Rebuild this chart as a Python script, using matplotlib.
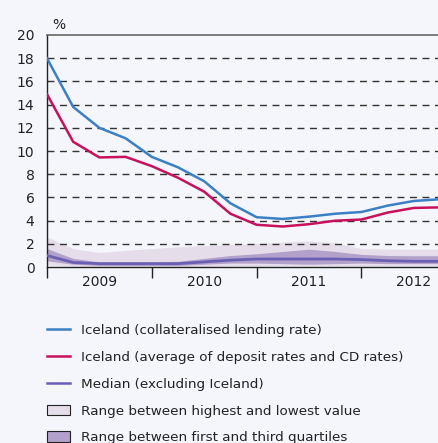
import numpy as np
import matplotlib
matplotlib.use('Agg')
import matplotlib.pyplot as plt
from matplotlib.patches import Patch
from matplotlib.lines import Line2D

# quarterly observations, 2009 Q1 onwards
quarters = 2009 + np.arange(16) * 0.25
lending_rate = [18.0, 13.8, 12.0, 11.1, 9.5, 8.6, 7.4, 5.5, 4.3, 4.15, 4.35, 4.6, 4.75, 5.3, 5.7, 5.85]
deposit_rate = [14.9, 10.8, 9.45, 9.5, 8.7, 7.7, 6.5, 4.6, 3.65, 3.5, 3.7, 4.0, 4.1, 4.7, 5.1, 5.15]
median_other = [1.0, 0.4, 0.3, 0.3, 0.3, 0.3, 0.45, 0.6, 0.7, 0.7, 0.7, 0.7, 0.65, 0.55, 0.5, 0.5]
q3 = [1.6, 0.75, 0.45, 0.45, 0.45, 0.5, 0.75, 1.0, 1.15, 1.35, 1.55, 1.35, 1.1, 1.0, 0.98, 0.98]
q1 = [0.55, 0.25, 0.15, 0.15, 0.15, 0.15, 0.25, 0.35, 0.35, 0.3, 0.25, 0.3, 0.35, 0.3, 0.3, 0.3]
range_high = [2.6, 1.6, 1.25, 1.45, 1.6, 1.75, 1.85, 1.95, 2.05, 2.15, 2.25, 2.1, 1.6, 1.55, 1.55, 1.55]
range_low = [0.2, 0.1, 0.05, 0.05, 0.05, 0.05, 0.05, 0.1, 0.1, 0.1, 0.1, 0.1, 0.1, 0.1, 0.1, 0.1]
years = ['2009', '2010', '2011', '2012']
yticks = list(range(0, 21, 2))

bg = '#f4f6fb'
c_blue = '#3b7fc4'
c_red = '#c8105c'
c_med = '#6a5fb3'
c_iqr = '#b2a1ca'
c_rng = '#e5dde9'

fig = plt.figure(figsize=(4.39, 4.43), dpi=100, facecolor=bg)
ax = fig.add_axes([0.107, 0.397, 0.893, 0.524], facecolor=bg)

ax.fill_between(quarters, range_low, range_high, color=c_rng, lw=0, zorder=1)
ax.fill_between(quarters, q1, q3, color=c_iqr, lw=0, zorder=2)
for y in yticks[1:-1]:
    ax.axhline(y, color='#333333', lw=1.0, ls=(0, (5, 4)), zorder=1.5)
ax.plot(quarters, median_other, color=c_med, lw=2, zorder=3)
ax.plot(quarters, deposit_rate, color=c_red, lw=1.8, zorder=4)
ax.plot(quarters, lending_rate, color=c_blue, lw=1.8, zorder=5)

ax.set_xlim(2009, 2012.74)
ax.set_ylim(0, 20)
ax.set_yticks(yticks)
ax.tick_params(axis='y', length=0, labelsize=10, pad=9, colors='#222222')
ax.set_xticks([2009, 2010, 2011, 2012])
ax.set_xticklabels([])
ax.set_xticks([int(y) + 0.5 for y in years], minor=True)
ax.set_xticklabels(years, minor=True)
ax.tick_params(axis='x', which='major', length=8, width=1, direction='out', color='#222222')
ax.tick_params(axis='x', which='minor', length=0, labelsize=10, pad=6, colors='#222222')

for s in ['left', 'bottom']:
    ax.spines[s].set_color('#222222')
    ax.spines[s].set_linewidth(1)
ax.spines['top'].set_color('#666666')
ax.spines['top'].set_linewidth(1.2)
ax.spines['right'].set_visible(False)

fig.text(0.118, 0.935, '%', fontsize=10, color='#222222')

handles = [
    Line2D([], [], color=c_blue, lw=1.8),
    Line2D([], [], color=c_red, lw=1.8),
    Line2D([], [], color=c_med, lw=1.8),
    Patch(facecolor=c_rng, edgecolor='#222222', lw=0.8),
    Patch(facecolor=c_iqr, edgecolor='#222222', lw=0.8),
]
labels = ['Iceland (collateralised lending rate)',
          'Iceland (average of deposit rates and CD rates)',
          'Median (excluding Iceland)',
          'Range between highest and lowest value',
          'Range between first and third quartiles']
fig.legend(handles, labels, loc='upper left', bbox_to_anchor=(0.107, 0.268),
           frameon=False, fontsize=9.7, handlelength=1.7, handleheight=0.8,
           handletextpad=0.8, labelspacing=1.02, borderpad=0, borderaxespad=0,
           labelcolor='#222222')

fig.savefig('out.png', dpi=100, facecolor=bg)
